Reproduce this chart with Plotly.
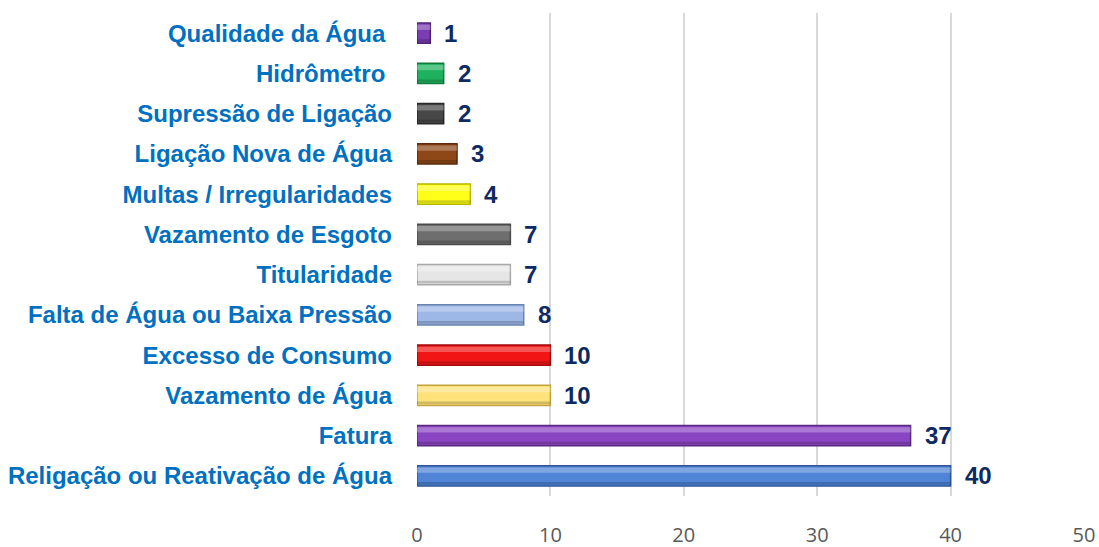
import plotly.graph_objects as go

categories = [
    "Qualidade da Água\u00a0",
    "Hidrômetro\u00a0",
    "Supressão de Ligação",
    "Ligação Nova de Água",
    "Multas / Irregularidades",
    "Vazamento de Esgoto",
    "Titularidade",
    "Falta de Água ou Baixa Pressão",
    "Excesso de Consumo",
    "Vazamento de Água",
    "Fatura",
    "Religação ou Reativação de Água",
]
values = [1, 2, 2, 3, 4, 7, 7, 8, 10, 10, 37, 40]
bar_colors = [
    "#7B3DB3", "#1FB25E", "#474747", "#8E4717", "#FFFF1A", "#6E6E6E",
    "#E6E6E6", "#9DB8E6", "#F21515", "#FFE27A", "#8A45C2", "#4F84D6",
]
edge_colors = [
    "#4E2375", "#137A3E", "#2A2A2A", "#5A2C0D", "#B5B500", "#4A4A4A",
    "#A8A8A8", "#6A84B0", "#A00A0A", "#C2A340", "#5A2A80", "#2E5596",
]
x_ticks = [0, 10, 20, 30, 40, 50]

fig = go.Figure()
fig.add_trace(go.Bar(
    x=values, y=categories, orientation="h",
    width=0.5,
    marker=dict(color=bar_colors, line=dict(color=edge_colors, width=1.5)),
    hoverinfo="skip",
))
# bevel highlight (upper band)
fig.add_trace(go.Bar(
    x=values, y=categories, orientation="h",
    width=0.13, offset=-0.21,
    marker=dict(color="rgba(255,255,255,0.28)", line=dict(width=0)),
    hoverinfo="skip",
))
# bevel shade (lower band)
fig.add_trace(go.Bar(
    x=values, y=categories, orientation="h",
    width=0.07, offset=0.15,
    marker=dict(color="rgba(0,0,0,0.18)", line=dict(width=0)),
    hoverinfo="skip",
))

for cat, v in zip(categories, values):
    fig.add_annotation(
        x=v, y=cat, text=f"<b>{v}</b>", showarrow=False,
        xanchor="left", yanchor="middle", xshift=12,
        font=dict(family="Liberation Sans, Arial", size=24, color="#0E2A62"),
    )

fig.update_layout(
    width=1099, height=547,
    margin=dict(l=417, r=15, t=13, b=51),
    paper_bgcolor="white", plot_bgcolor="white",
    barmode="overlay",
    showlegend=False,
    xaxis=dict(
        range=[0, 50], tickvals=x_ticks,
        showgrid=True, gridcolor="#D9D9D9", gridwidth=1.5,
        zeroline=False, showline=False,
        ticks="", ticklabelstandoff=25, automargin=False,
        tickfont=dict(family="Open Sans, Liberation Sans", size=20, color="#595959"),
    ),
    yaxis=dict(
        categoryorder="array", categoryarray=categories,
        autorange="reversed",
        showgrid=False, zeroline=False, showline=False,
        ticks="", ticklabelstandoff=24, automargin=False,
        tickfont=dict(family="Liberation Sans, Arial", size=24, color="#0070C0", weight="bold"),
    ),
)

fig.write_html(
    "out.html",
    config={"displayModeBar": False},
    post_script="document.body.style.margin='0';document.body.style.overflow='hidden';",
)
